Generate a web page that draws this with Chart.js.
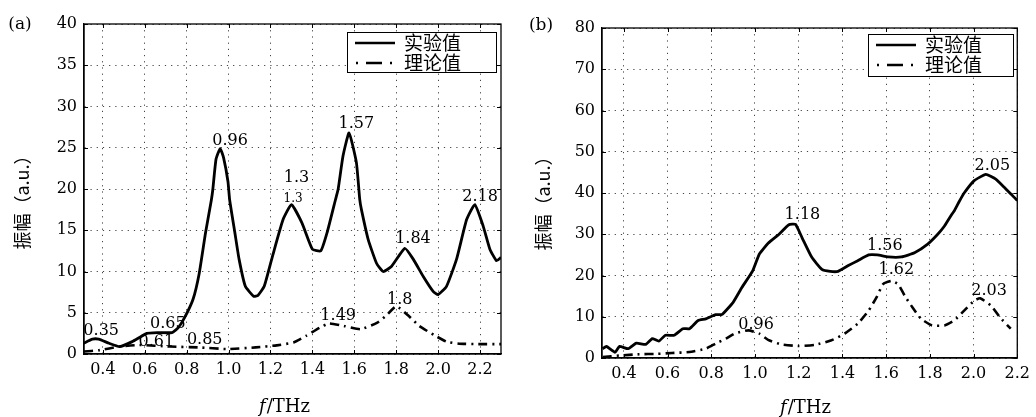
<!DOCTYPE html>
<html>
<head>
<meta charset="utf-8">
<script src="https://cdn.jsdelivr.net/npm/chart.js@4"></script>
<style>
body{margin:0;background:#fff;width:1036px;height:417px;overflow:hidden;position:relative}
.panel{position:absolute;top:0;width:518px;height:417px}
</style>
</head>
<body>
<div class="panel" style="left:0"><canvas id="ca"></canvas></div>
<div class="panel" style="left:518px"><canvas id="cb"></canvas></div>
<script>
/* ===== DATA ===== */
// (a) experiment (solid) and theory (dash-dot)
const aExpF=[0.308,0.35,0.38,0.43,0.48,0.54,0.61,0.66,0.73,0.76,0.79,0.83,0.86,0.89,0.918,0.925,0.94,0.96,0.976,0.997,1.005,1.03,1.05,1.08,1.12,1.14,1.17,1.21,1.26,1.30,1.35,1.40,1.44,1.47,1.51,1.523,1.546,1.575,1.61,1.626,1.634,1.666,1.706,1.738,1.777,1.841,1.881,1.929,1.976,2.0,2.04,2.088,2.136,2.175,2.215,2.247,2.279,2.30];
const aExpA=[1.3,1.8,1.8,1.3,0.9,1.5,2.5,2.6,2.6,3.2,4.4,6.6,9.8,14.7,18.7,20,23.6,24.9,23.8,20.9,18.7,14.7,11.5,8.2,7.0,7.1,8.2,11.9,16.3,18.1,15.9,12.7,12.5,14.7,18.7,20,24,26.8,23.2,18.7,17.5,13.9,11.0,10.0,10.6,12.8,11.5,9.4,7.6,7.2,8.2,11.5,16.3,18.1,15.5,12.7,11.3,11.7];
const aThF=[0.31,0.38,0.48,0.575,0.72,0.86,0.99,1.13,1.23,1.31,1.37,1.435,1.48,1.55,1.63,1.71,1.75,1.80,1.86,1.91,1.98,2.04,2.10,2.2,2.30];
const aThA=[0.3,0.45,0.9,1.1,0.9,0.8,0.6,0.8,1.05,1.4,2.2,3.2,3.7,3.4,3.0,3.8,4.6,5.8,4.6,3.4,2.3,1.5,1.25,1.2,1.2];
const aNoteT=['0.35','0.65','0.61','0.85','0.96','1.3','1.57','1.49','1.8','1.84','2.18'];
const aNoteF=[0.392,0.71,0.655,0.886,1.007,1.324,1.61,1.523,1.817,1.88,2.2];
const aNoteA=[2.8,3.7,1.5,1.7,25.8,21.4,27.9,4.6,6.6,13.9,19.1];
const aSmallT=['1.3'];
const aSmallF=[1.308];
const aSmallA=[18.8];

// (b)
const bExpF=[0.303,0.32,0.36,0.38,0.42,0.457,0.50,0.53,0.56,0.59,0.63,0.67,0.70,0.74,0.775,0.82,0.85,0.90,0.94,0.99,1.02,1.06,1.11,1.155,1.185,1.215,1.26,1.306,1.344,1.38,1.427,1.47,1.52,1.56,1.61,1.67,1.73,1.79,1.836,1.867,1.9,1.912,1.935,1.957,2.003,2.056,2.10,2.14,2.17,2.2];
const bExpA=[2.25,2.8,1.4,2.8,2.25,3.6,3.3,4.7,4.1,5.5,5.5,7.1,7.1,9.1,9.5,10.5,10.6,13.5,17.1,21.2,25.2,27.8,30,32.3,32.4,29.2,24.4,21.5,21,21,22.4,23.6,25,25,24.5,24.5,25.5,27.6,30,32,34.8,35.7,38,40,43,44.5,43.4,41.4,39.8,38.2];
const bThF=[0.303,0.38,0.47,0.55,0.62,0.70,0.775,0.82,0.867,0.91,0.97,1.02,1.06,1.12,1.2,1.276,1.35,1.41,1.47,1.52,1.556,1.586,1.624,1.655,1.685,1.72,1.76,1.81,1.867,1.912,1.957,2.003,2.03,2.08,2.12,2.17];
const bThA=[0.25,0.6,0.9,1.0,1.2,1.45,2.25,3.5,4.7,6,6.7,5.9,4.4,3.3,2.9,3.2,4.3,5.9,8.3,11.5,14.7,17.9,18.7,17.9,15.1,12.3,9.5,7.9,7.9,9.1,11.5,13.9,14.5,12.7,9.9,7.1];
const bNoteT=['1.18','1.56','1.62','2.03','0.96','2.05'];
const bNoteF=[1.217,1.594,1.647,2.071,1.005,2.086];
const bNoteA=[34.7,27.2,21.3,16.3,8.1,46.7];

const xTicks=[0.4,0.6,0.8,1.0,1.2,1.4,1.6,1.8,2.0,2.2];
const aYTicks=[0,5,10,15,20,25,30,35,40];
const bYTicks=[0,10,20,30,40,50,60,70,80];
const legendNames=['实验值','理论值'];
const yTitle='振幅（a.u.）';

/* ===== HELPERS ===== */
const zip=(xs,ys)=>xs.map((v,i)=>({x:v,y:ys[i]}));
const notes=(t,xs,ys)=>t.map((s,i)=>({t:s,x:xs[i],y:ys[i]}));
const SERIF='"DejaVu Serif", serif';
const CJK='"Noto Sans CJK SC", sans-serif';
const DASHDOT=[9,5,2,5];

const decor={id:'decor',afterDraw(c,args,o){
  const {ctx,chartArea:a,scales:{x,y}}=c;
  ctx.save();
  // frame + inward ticks
  ctx.strokeStyle='#000';ctx.lineWidth=1.3;
  ctx.strokeRect(a.left,a.top,a.right-a.left,a.bottom-a.top);
  ctx.lineWidth=1;ctx.beginPath();
  x.ticks.forEach(t=>{const p=Math.round(x.getPixelForValue(t.value))+0.5;
    ctx.moveTo(p,a.top);ctx.lineTo(p,a.top+4);ctx.moveTo(p,a.bottom);ctx.lineTo(p,a.bottom-4);});
  y.ticks.forEach(t=>{const p=Math.round(y.getPixelForValue(t.value))+0.5;
    ctx.moveTo(a.left,p);ctx.lineTo(a.left+4,p);ctx.moveTo(a.right,p);ctx.lineTo(a.right-4,p);});
  ctx.stroke();
  // peak labels
  ctx.fillStyle='#000';ctx.textAlign='center';ctx.textBaseline='middle';
  ctx.font='16px '+SERIF;
  o.notes.forEach(n=>ctx.fillText(n.t,x.getPixelForValue(n.x),y.getPixelForValue(n.y)));
  ctx.font='12px '+SERIF;
  (o.small||[]).forEach(n=>ctx.fillText(n.t,x.getPixelForValue(n.x),y.getPixelForValue(n.y)));
  // legend
  const L=o.legend;
  ctx.fillStyle='#fff';ctx.fillRect(L.x,L.y,L.w,L.h);
  ctx.strokeStyle='#000';ctx.lineWidth=1;ctx.strokeRect(L.x+0.5,L.y+0.5,L.w,L.h);
  ctx.lineWidth=2.6;
  ctx.beginPath();ctx.moveTo(L.x+8,L.y+11);ctx.lineTo(L.x+48,L.y+11);ctx.stroke();
  ctx.setLineDash([2,8,16,8,2,100]);
  ctx.beginPath();ctx.moveTo(L.x+9,L.y+31);ctx.lineTo(L.x+48,L.y+31);ctx.stroke();
  ctx.setLineDash([]);
  ctx.fillStyle='#000';ctx.font='19px '+CJK;ctx.textAlign='left';
  ctx.fillText(legendNames[0],L.x+57,L.y+11);
  ctx.fillText(legendNames[1],L.x+57,L.y+31);
  // panel tag
  ctx.font='17px '+SERIF;ctx.textAlign='center';
  ctx.fillText(o.tag.t,o.tag.x,o.tag.y);
  // y title
  ctx.save();ctx.translate(o.yt.x,o.yt.y);ctx.rotate(-Math.PI/2);
  ctx.font='18px '+CJK;ctx.fillText(yTitle,0,0);ctx.restore();
  // x title f/THz
  ctx.font='italic 18px '+SERIF;const w1=ctx.measureText('f').width;
  ctx.font='18px '+SERIF;const w2=ctx.measureText('/THz').width;
  const x0=o.xt.x-(w1+w2)/2;ctx.textAlign='left';
  ctx.font='italic 18px '+SERIF;ctx.fillText('f',x0,o.xt.y);
  ctx.font='18px '+SERIF;ctx.fillText('/THz',x0+w1+1,o.xt.y);
  ctx.restore();
}};

function makePanel(id,P){
  return new Chart(document.getElementById(id),{
    type:'line',
    data:{datasets:[
      {data:zip(P.expF,P.expA),borderColor:'#000',borderWidth:2.8,pointRadius:0,tension:0.15,fill:false},
      {data:zip(P.thF,P.thA),borderColor:'#000',borderWidth:2.6,borderDash:DASHDOT,pointRadius:0,tension:0.15,fill:false}
    ]},
    options:{
      responsive:true,maintainAspectRatio:false,animation:false,devicePixelRatio:1,
      layout:{padding:{top:P.top,right:17,left:0,bottom:0}},
      plugins:{legend:{display:false},tooltip:{enabled:false},
        decor:{notes:P.notes,small:P.small,legend:P.legend,tag:P.tag,yt:P.yt,xt:P.xt}},
      scales:{
        x:{type:'linear',min:P.xmin,max:P.xmax,
          afterBuildTicks:s=>{s.ticks=xTicks.map(v=>({value:v}));},
          afterFit:s=>{s.height=417-P.top-P.plotH;},
          ticks:{color:'#000',font:{family:SERIF,size:16},padding:6,callback:v=>v.toFixed(1),maxRotation:0,autoSkip:false},
          grid:{color:'#444',lineWidth:1,drawTicks:false},
          border:{display:true,color:'#000',width:1.3,dash:[1.2,5]}},
        y:{type:'linear',min:P.yTicks[0],max:P.yTicks[P.yTicks.length-1],
          afterBuildTicks:s=>{s.ticks=P.yTicks.map(v=>({value:v}));},
          afterFit:s=>{s.width=84;},
          ticks:{color:'#000',font:{family:SERIF,size:16},padding:7,autoSkip:false},
          grid:{color:'#444',lineWidth:1,drawTicks:false},
          border:{display:true,color:'#000',width:1.3,dash:[1.2,5]}}
      }
    },
    plugins:[decor]
  });
}

makePanel('ca',{
  expF:aExpF,expA:aExpA,thF:aThF,thA:aThA,
  notes:notes(aNoteT,aNoteF,aNoteA),small:notes(aSmallT,aSmallF,aSmallA),
  xmin:0.31,xmax:2.3,yTicks:aYTicks,top:24,plotH:330,
  legend:{x:347,y:32,w:149,h:40},tag:{t:'(a)',x:20,y:25},yt:{x:22,y:198},xt:{x:284,y:407}
});
makePanel('cb',{
  expF:bExpF,expA:bExpA,thF:bThF,thA:bThA,
  notes:notes(bNoteT,bNoteF,bNoteA),small:[],
  xmin:0.3,xmax:2.2,yTicks:bYTicks,top:28,plotH:330,
  legend:{x:350,y:34,w:145,h:42},tag:{t:'(b)',x:23,y:26},yt:{x:25,y:199},xt:{x:287,y:408}
});
</script>
</body>
</html>
